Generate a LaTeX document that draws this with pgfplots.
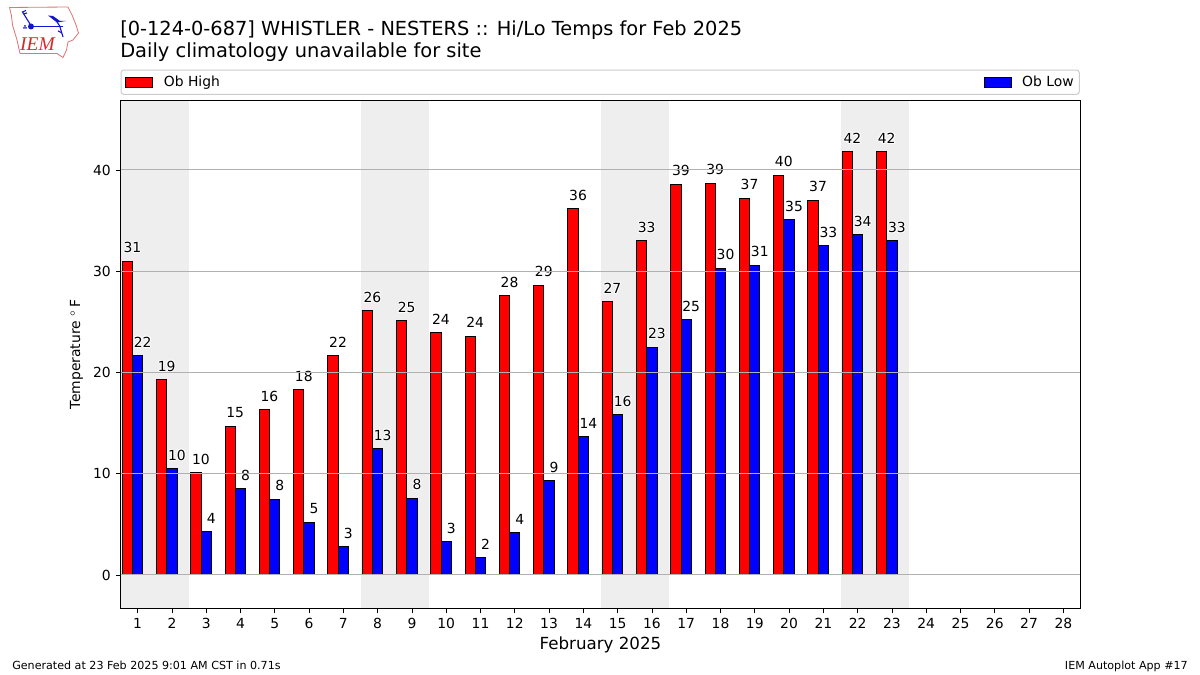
\documentclass[border=0pt]{standalone}
\usepackage{pgfplots}
\usepackage{pgfplotstable}
\usepackage{fontspec}
\pgfplotsset{compat=1.18}
\setmainfont{DejaVu Sans}
\newfontfamily\logofont{Liberation Serif}
\definecolor{band}{HTML}{EEEEEE}
\definecolor{gridc}{HTML}{B0B0B0}
\definecolor{legc}{HTML}{CCCCCC}
\definecolor{logored}{HTML}{DD7777}
\definecolor{logotext}{HTML}{D42A2A}
\definecolor{logoblue}{HTML}{1414D2}
\newcommand\halo[1]{\leavevmode\rlap{\color{white}\hspace{.7pt}#1}\rlap{\color{white}\hspace{-.7pt}#1}\rlap{\color{white}\raisebox{.7pt}{#1}}\rlap{\color{white}\raisebox{-.7pt}{#1}}\rlap{\color{white}\hspace{.5pt}\raisebox{.5pt}{#1}}\rlap{\color{white}\hspace{-.5pt}\raisebox{.5pt}{#1}}\rlap{\color{white}\hspace{.5pt}\raisebox{-.5pt}{#1}}\rlap{\color{white}\hspace{-.5pt}\raisebox{-.5pt}{#1}}#1}
\pgfplotsset{datalabels/.style={
  nodes near coords={\halo{\pgfmathprintnumber[fixed,precision=0]{\pgfplotspointmeta}}},
  nodes near coords style={font=\fontsize{10bp}{12bp}\selectfont, inner sep=0pt, anchor=south, xshift=3.6bp, yshift=5bp, text=black}}}
\pgfplotstableread{
day hi hilab lo lolab
1 31.0 31 21.7 22
2 19.3 19 10.5 10
3 10.1 10 4.3 4
4 14.7 15 8.5 8
5 16.3 16 7.5 8
6 18.3 18 5.2 5
7 21.7 22 2.8 3
8 26.1 26 12.5 13
9 25.1 25 7.6 8
10 23.9 24 3.3 3
11 23.6 24 1.7 2
12 27.6 28 4.2 4
13 28.6 29 9.3 9
14 36.2 36 13.7 14
15 27.0 27 15.8 16
16 33.0 33 22.5 23
17 38.6 39 25.2 25
18 38.7 39 30.3 30
19 37.2 37 30.6 31
20 39.5 40 35.1 35
21 37.0 37 32.5 33
22 41.8 42 33.6 34
23 41.8 42 33.0 33
}\temps
\begin{document}
\begin{tikzpicture}
\begin{axis}[
  at={(86.76bp,47.88bp)}, anchor=south west,
  scale only axis, width=691.2bp, height=365.76bp,
  xmin=0.5, xmax=28.5, ymin=-3.31, ymax=46.86,
  xtick={1,...,28}, ytick={0,10,20,30,40},
  tick align=outside, xtick pos=bottom, ytick pos=left,
  major tick length=3.5bp,
  tick style={black, line width=0.58bp},
  axis line style={black, line width=0.72bp},
  ymajorgrids, grid style={gridc, line width=0.72bp},
  set layers=axis on top,
  /pgf/number format/assume math mode=true,
  ticklabel style={font=\fontsize{10bp}{12bp}\selectfont},
  xlabel={February 2025},
  xlabel style={font=\fontsize{12bp}{14bp}\selectfont, at={(0.5,0)}, anchor=north, yshift=-17bp},
  ylabel={Temperature $^\circ$\,F},
  ylabel style={font=\fontsize{10bp}{12bp}\selectfont, at={(0,0.5)}, anchor=south, yshift=23.4bp},
  legend columns=2,
  legend cell align=left,
  legend style={at={(0,1)}, anchor=south west, yshift=4.1bp,
    draw=legc, line width=0.72bp, rounded corners=2bp,
    font=\fontsize{10bp}{12bp}\selectfont,
    inner xsep=2bp, inner ysep=2.2bp,
    /tikz/every odd column/.append style={column sep=5.6bp},
    /tikz/every even column/.append style={column sep=546.8bp}},
]
\addplot[fill=band, draw=none, forget plot] coordinates {(0.5,-3.31)(2.5,-3.31)(2.5,46.86)(0.5,46.86)};
\addplot[fill=band, draw=none, forget plot] coordinates {(7.5,-3.31)(9.5,-3.31)(9.5,46.86)(7.5,46.86)};
\addplot[fill=band, draw=none, forget plot] coordinates {(14.5,-3.31)(16.5,-3.31)(16.5,46.86)(14.5,46.86)};
\addplot[fill=band, draw=none, forget plot] coordinates {(21.5,-3.31)(23.5,-3.31)(23.5,46.86)(21.5,46.86)};
\addplot[ybar, bar width=0.3, bar shift=-0.3, fill=red, draw=black, line width=0.72bp,
  legend image code/.code={\path[draw=none,fill=none] (0bp,0bp) -- (1bp,0bp);\draw[sharp corners,fill=red,draw=black,line width=0.72bp] (1.5bp,-3.6bp) rectangle (20.9bp,3.6bp);}]
  table[x=day, y=hi] {\temps};
\addlegendentry{Ob High}
\addplot[ybar, bar width=0.3, bar shift=0, fill=blue, draw=black, line width=0.72bp,
  legend image code/.code={\path[draw=none,fill=none] (0bp,0bp) -- (1bp,0bp);\draw[sharp corners,fill=blue,draw=black,line width=0.72bp] (1.5bp,-3.6bp) rectangle (20.9bp,3.6bp);}]
  table[x=day, y=lo] {\temps};
\addlegendentry{Ob Low}
\addplot[draw=none, mark=none, forget plot, on layer=axis foreground, datalabels, point meta=explicit]
  table[x expr=\thisrow{day}-0.3, y=hi, meta=hilab] {\temps};
\addplot[draw=none, mark=none, forget plot, on layer=axis foreground, datalabels, point meta=explicit]
  table[x=day, y=lo, meta=lolab] {\temps};
\end{axis}
\begin{scope}[shift={(0,486bp)}, x=0.72bp, y=-0.72bp]
  \node[anchor=base west, inner sep=0pt, font=\fontsize{13.95bp}{16bp}\selectfont] at (120,35.5) {[0-124-0-687] WHISTLER - NESTERS :: Hi/Lo Temps for Feb 2025};
  \node[anchor=base west, inner sep=0pt, font=\fontsize{14bp}{16bp}\selectfont] at (120,57.5) {Daily climatology unavailable for site};
  \node[anchor=base west, inner sep=0pt, font=\fontsize{8bp}{10bp}\selectfont] at (12,670) {Generated at 23 Feb 2025 9:01 AM CST in 0.71s};
  \node[anchor=base east, inner sep=0pt, font=\fontsize{8bp}{10bp}\selectfont] at (1188,670) {IEM Autoplot App \#17};
  \draw[logored, line width=0.6bp, line join=round] (9.5,7.5)--(68,7)--(72,15)--(76,25)--(78.5,33)--(73,40)--(68,42)--(66.5,50)--(63,57.5)--(57,53.5)--(20,53.5)--(17,40)--(12.5,25)--(11.5,16)--cycle;
  \draw[logoblue, line width=1.2bp] (32,26.5)--(63,26.5);
  \draw[logoblue, line width=0.8bp] (30,24)--(22.5,12)--(26,10.5);
  \draw[logoblue, line width=0.8bp] (23.5,14)--(27,13);
  \fill[logoblue] (31,26.5) circle (3);
  \fill[logoblue] (48,15.5)--(53,16)--(60,21)--(66,21)--(57,22.5)--cycle;
  \draw[logoblue, line width=0.8bp] (57,22)--(60,26.5);
  \draw[logoblue, line width=0.8bp] (60,27)--(63,37);
  \draw[logoblue, line width=0.8bp] (58,31)--(62,33);
  \fill[logoblue] (24,28) circle (1) (26,28) circle (1) (25,26) circle (1);
  \node[anchor=base, inner sep=0pt, text=logotext, font=\logofont\itshape\fontsize{14bp}{17bp}\selectfont] at (37.5,51) {IEM};
\end{scope}
\pgfresetboundingbox
\useasboundingbox (0,0) rectangle (864bp,486bp);
\end{tikzpicture}
\end{document}
